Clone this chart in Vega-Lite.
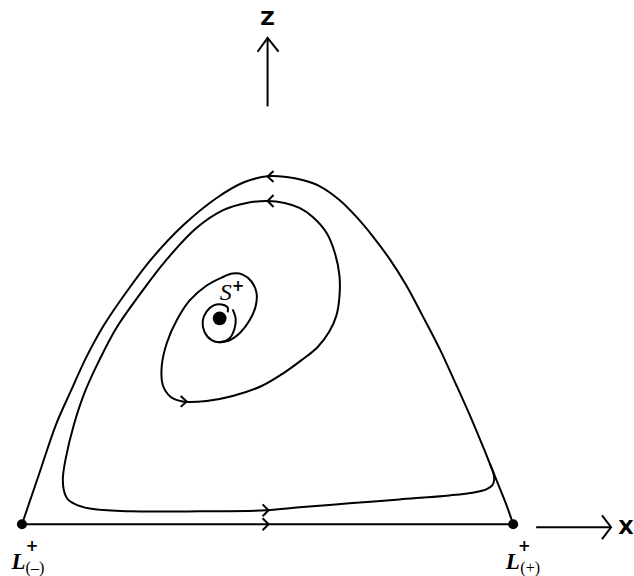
{
  "$schema": "https://vega.github.io/schema/vega-lite/v6.json",
  "width": 634,
  "height": 576,
  "autosize": {"type": "fit", "contains": "padding"},
  "padding": 0,
  "background": "white",
  "config": {"view": {"stroke": null}},
  "datasets": {
    "curves": [
      {"c": "outer", "i": 0, "x": 22, "y": 527},
      {"c": "outer", "i": 1, "x": 39, "y": 477},
      {"c": "outer", "i": 2, "x": 56, "y": 427},
      {"c": "outer", "i": 3, "x": 71, "y": 393},
      {"c": "outer", "i": 4, "x": 86, "y": 360},
      {"c": "outer", "i": 5, "x": 104, "y": 327},
      {"c": "outer", "i": 6, "x": 127, "y": 293},
      {"c": "outer", "i": 7, "x": 152, "y": 260},
      {"c": "outer", "i": 8, "x": 184, "y": 226},
      {"c": "outer", "i": 9, "x": 217, "y": 199},
      {"c": "outer", "i": 10, "x": 245, "y": 183},
      {"c": "outer", "i": 11, "x": 270, "y": 177},
      {"c": "outer", "i": 12, "x": 287, "y": 178},
      {"c": "outer", "i": 13, "x": 303, "y": 181},
      {"c": "outer", "i": 14, "x": 320, "y": 187},
      {"c": "outer", "i": 15, "x": 340, "y": 201},
      {"c": "outer", "i": 16, "x": 357, "y": 218},
      {"c": "outer", "i": 17, "x": 373, "y": 237},
      {"c": "outer", "i": 18, "x": 390, "y": 260},
      {"c": "outer", "i": 19, "x": 407, "y": 287},
      {"c": "outer", "i": 20, "x": 423, "y": 317},
      {"c": "outer", "i": 21, "x": 440, "y": 350},
      {"c": "outer", "i": 22, "x": 457, "y": 387},
      {"c": "outer", "i": 23, "x": 473, "y": 423},
      {"c": "outer", "i": 24, "x": 487, "y": 457},
      {"c": "outer", "i": 25, "x": 497, "y": 482},
      {"c": "outer", "i": 26, "x": 507, "y": 507},
      {"c": "outer", "i": 27, "x": 514, "y": 527},

      {"c": "inner", "i": 0, "x": 228, "y": 314},
      {"c": "inner", "i": 1, "x": 228, "y": 309},
      {"c": "inner", "i": 2, "x": 222, "y": 306},
      {"c": "inner", "i": 3, "x": 214, "y": 307},
      {"c": "inner", "i": 4, "x": 207, "y": 313},
      {"c": "inner", "i": 5, "x": 203, "y": 323},
      {"c": "inner", "i": 6, "x": 205, "y": 334},
      {"c": "inner", "i": 7, "x": 212, "y": 342},
      {"c": "inner", "i": 8, "x": 221, "y": 344},
      {"c": "inner", "i": 9, "x": 230, "y": 340},
      {"c": "inner", "i": 10, "x": 235, "y": 330},
      {"c": "inner", "i": 11, "x": 236, "y": 320},
      {"c": "inner", "i": 12, "x": 233, "y": 311},

      {"c": "spiral", "i": 0, "x": 219, "y": 344},
      {"c": "spiral", "i": 1, "x": 230, "y": 342},
      {"c": "spiral", "i": 2, "x": 241, "y": 334},
      {"c": "spiral", "i": 3, "x": 250, "y": 322},
      {"c": "spiral", "i": 4, "x": 256, "y": 308},
      {"c": "spiral", "i": 5, "x": 257, "y": 295},
      {"c": "spiral", "i": 6, "x": 252, "y": 283},
      {"c": "spiral", "i": 7, "x": 243, "y": 276},
      {"c": "spiral", "i": 8, "x": 233, "y": 275},
      {"c": "spiral", "i": 9, "x": 222, "y": 279},
      {"c": "spiral", "i": 10, "x": 207, "y": 287},
      {"c": "spiral", "i": 11, "x": 190, "y": 302},
      {"c": "spiral", "i": 12, "x": 177, "y": 322},
      {"c": "spiral", "i": 13, "x": 167, "y": 345},
      {"c": "spiral", "i": 14, "x": 162, "y": 368},
      {"c": "spiral", "i": 15, "x": 163, "y": 387},
      {"c": "spiral", "i": 16, "x": 171, "y": 399},
      {"c": "spiral", "i": 17, "x": 183, "y": 403.5},
      {"c": "spiral", "i": 18, "x": 207, "y": 403},
      {"c": "spiral", "i": 19, "x": 233, "y": 398},
      {"c": "spiral", "i": 20, "x": 262, "y": 388},
      {"c": "spiral", "i": 21, "x": 284, "y": 375},
      {"c": "spiral", "i": 22, "x": 302, "y": 362},
      {"c": "spiral", "i": 23, "x": 318, "y": 349},
      {"c": "spiral", "i": 24, "x": 330, "y": 333},
      {"c": "spiral", "i": 25, "x": 337, "y": 317},
      {"c": "spiral", "i": 26, "x": 340, "y": 298},
      {"c": "spiral", "i": 27, "x": 340, "y": 277},
      {"c": "spiral", "i": 28, "x": 335, "y": 253},
      {"c": "spiral", "i": 29, "x": 327, "y": 234},
      {"c": "spiral", "i": 30, "x": 313, "y": 218},
      {"c": "spiral", "i": 31, "x": 300, "y": 209},
      {"c": "spiral", "i": 32, "x": 285, "y": 204},
      {"c": "spiral", "i": 33, "x": 268, "y": 202},
      {"c": "spiral", "i": 34, "x": 247, "y": 204},
      {"c": "spiral", "i": 35, "x": 224, "y": 211},
      {"c": "spiral", "i": 36, "x": 197, "y": 229},
      {"c": "spiral", "i": 37, "x": 166, "y": 262},
      {"c": "spiral", "i": 38, "x": 140, "y": 296},
      {"c": "spiral", "i": 39, "x": 117, "y": 329},
      {"c": "spiral", "i": 40, "x": 100, "y": 361},
      {"c": "spiral", "i": 41, "x": 85, "y": 394},
      {"c": "spiral", "i": 42, "x": 74, "y": 427},
      {"c": "spiral", "i": 43, "x": 66, "y": 460},
      {"c": "spiral", "i": 44, "x": 63, "y": 480},
      {"c": "spiral", "i": 45, "x": 64, "y": 493},
      {"c": "spiral", "i": 46, "x": 68, "y": 502},
      {"c": "spiral", "i": 47, "x": 78, "y": 508},
      {"c": "spiral", "i": 48, "x": 95, "y": 512},
      {"c": "spiral", "i": 49, "x": 130, "y": 514},
      {"c": "spiral", "i": 50, "x": 200, "y": 514},
      {"c": "spiral", "i": 51, "x": 267, "y": 513},
      {"c": "spiral", "i": 52, "x": 300, "y": 510},
      {"c": "spiral", "i": 53, "x": 350, "y": 506},
      {"c": "spiral", "i": 54, "x": 400, "y": 502},
      {"c": "spiral", "i": 55, "x": 450, "y": 498},
      {"c": "spiral", "i": 56, "x": 475, "y": 495},
      {"c": "spiral", "i": 57, "x": 487, "y": 492},
      {"c": "spiral", "i": 58, "x": 493, "y": 488},
      {"c": "spiral", "i": 59, "x": 495, "y": 482},
      {"c": "spiral", "i": 60, "x": 494, "y": 475},
      {"c": "spiral", "i": 61, "x": 490.5, "y": 466}
    ],
    "segments": [
      {"g": "base", "i": 0, "x": 22, "y": 527},
      {"g": "base", "i": 1, "x": 514, "y": 527},
      {"g": "a1", "i": 0, "x": 274, "y": 172},
      {"g": "a1", "i": 1, "x": 268, "y": 177.5},
      {"g": "a1", "i": 2, "x": 274, "y": 183},
      {"g": "a2", "i": 0, "x": 274, "y": 196},
      {"g": "a2", "i": 1, "x": 268, "y": 202},
      {"g": "a2", "i": 2, "x": 274, "y": 208},
      {"g": "a3", "i": 0, "x": 181, "y": 398},
      {"g": "a3", "i": 1, "x": 187, "y": 403.5},
      {"g": "a3", "i": 2, "x": 181, "y": 409},
      {"g": "a4", "i": 0, "x": 263, "y": 507},
      {"g": "a4", "i": 1, "x": 269, "y": 513},
      {"g": "a4", "i": 2, "x": 263, "y": 519},
      {"g": "a5", "i": 0, "x": 263, "y": 521},
      {"g": "a5", "i": 1, "x": 269, "y": 527},
      {"g": "a5", "i": 2, "x": 263, "y": 533},
      {"g": "zline", "i": 0, "x": 268, "y": 107},
      {"g": "zline", "i": 1, "x": 268, "y": 38},
      {"g": "zhead", "i": 0, "x": 258, "y": 52},
      {"g": "zhead", "i": 1, "x": 268, "y": 38},
      {"g": "zhead", "i": 2, "x": 279, "y": 52},
      {"g": "xline", "i": 0, "x": 537, "y": 530},
      {"g": "xline", "i": 1, "x": 612, "y": 530},
      {"g": "xhead", "i": 0, "x": 603, "y": 518},
      {"g": "xhead", "i": 1, "x": 612, "y": 530},
      {"g": "xhead", "i": 2, "x": 603, "y": 542}
    ]
  },
  "encoding": {
    "x": {"field": "x", "type": "quantitative", "scale": {"domain": [0, 634], "nice": false, "zero": false}, "axis": null},
    "y": {"field": "y", "type": "quantitative", "scale": {"domain": [0, 576], "nice": false, "zero": false, "reverse": true}, "axis": null}
  },
  "layer": [
    {
      "data": {"name": "curves"},
      "mark": {"type": "line", "interpolate": "catmull-rom", "color": "black", "strokeWidth": 2},
      "encoding": {"detail": {"field": "c"}, "order": {"field": "i", "type": "quantitative"}}
    },
    {
      "data": {"name": "segments"},
      "mark": {"type": "line", "interpolate": "linear", "color": "black", "strokeWidth": 2},
      "encoding": {"detail": {"field": "g"}, "order": {"field": "i", "type": "quantitative"}}
    },
    {
      "data": {"values": [{"p": "L-", "x": 22, "y": 527}, {"p": "L+", "x": 514, "y": 527}]},
      "mark": {"type": "point", "filled": true, "color": "black", "opacity": 1, "size": 100}
    },
    {
      "data": {"values": [{"p": "S", "x": 220, "y": 320}]},
      "mark": {"type": "point", "filled": true, "color": "black", "opacity": 1, "size": 190}
    },
    {
      "data": {"values": [{"t": "Z", "x": 268, "y": 19}, {"t": "X", "x": 627, "y": 531}]},
      "mark": {"type": "text", "font": "DejaVu Sans", "fontWeight": "bold", "fontSize": 20, "align": "center", "baseline": "middle", "color": "black"},
      "encoding": {"text": {"field": "t"}}
    },
    {
      "data": {"values": [{"t": "S", "x": 226, "y": 295}]},
      "mark": {"type": "text", "font": "Liberation Serif", "fontStyle": "italic", "fontSize": 24, "align": "center", "baseline": "middle", "color": "black"},
      "encoding": {"text": {"field": "t"}}
    },
    {
      "data": {"values": [{"t": "L", "x": 18.5, "y": 565}, {"t": "L", "x": 513.5, "y": 565}]},
      "mark": {"type": "text", "font": "Liberation Serif", "fontStyle": "italic", "fontWeight": "bold", "fontSize": 23, "align": "center", "baseline": "middle", "color": "black"},
      "encoding": {"text": {"field": "t"}}
    },
    {
      "data": {"values": [{"t": "+", "x": 238.5, "y": 287}, {"t": "+", "x": 32, "y": 549}, {"t": "+", "x": 525, "y": 549}]},
      "mark": {"type": "text", "font": "DejaVu Sans", "fontWeight": "bold", "fontSize": 15, "align": "center", "baseline": "middle", "color": "black"},
      "encoding": {"text": {"field": "t"}}
    },
    {
      "data": {"values": [{"t": "(–)", "x": 35, "y": 571}, {"t": "(+)", "x": 531, "y": 571}]},
      "mark": {"type": "text", "font": "Liberation Serif", "fontSize": 16, "align": "center", "baseline": "middle", "color": "black"},
      "encoding": {"text": {"field": "t"}}
    }
  ]
}
